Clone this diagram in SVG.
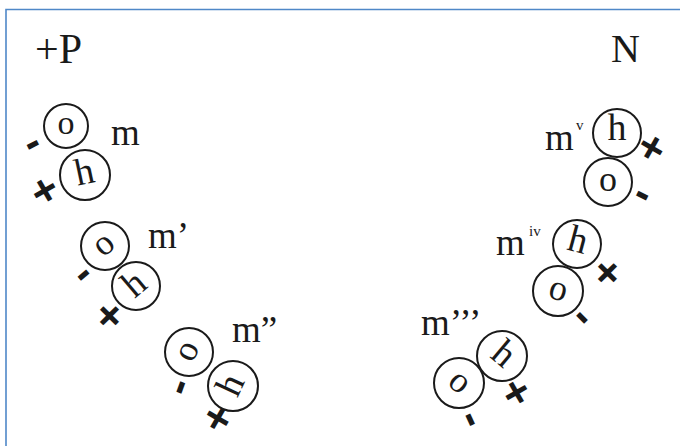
<svg xmlns="http://www.w3.org/2000/svg" width="680" height="446" viewBox="0 0 680 446">
<style>
.c{fill:none;stroke:#1a1a1a;stroke-width:2}
.l{font-family:"Liberation Serif","DejaVu Serif",serif;fill:#1a1a1a;text-anchor:middle}
.a{font-family:"Liberation Serif","DejaVu Serif",serif;fill:#1a1a1a}
.q{font-family:"Liberation Sans","DejaVu Sans",sans-serif;font-weight:bold;fill:#1a1a1a;text-anchor:middle;dominant-baseline:central}
.p{font-size:44px}
.n{font-size:44px}
</style>
<rect width="680" height="446" fill="#fff"/>
<path d="M6 446V9.5H680" fill="none" stroke="#4f88c8" stroke-width="1.6"/>
<text class="a" x="35" y="63" font-size="42">+P</text>
<text class="a" x="611" y="62" font-size="40">N</text>

<g id="m">
<circle class="c" cx="66" cy="126" r="22"/>
<text class="l" font-size="34" transform="translate(66,126)" y="8">o</text>
<circle class="c" cx="85" cy="175" r="25"/>
<text class="l" font-size="38" transform="translate(85,175) rotate(-12)" y="9">h</text>
<text class="a" x="111" y="145" font-size="37">m</text>
<text class="q n" transform="translate(31,141) rotate(-27)">-</text>
<text class="q p" transform="translate(44,190) rotate(-30)">+</text>
</g>

<g id="m1">
<circle class="c" cx="105" cy="246" r="24"/>
<text class="l" font-size="36" transform="translate(105,246) rotate(-40)" y="8">o</text>
<circle class="c" cx="136" cy="286" r="24"/>
<text class="l" font-size="38" transform="translate(136,286) rotate(-40)" y="9">h</text>
<text class="a" x="148" y="248" font-size="37">m’</text>
<text class="q n" transform="translate(81,272) rotate(-40)">-</text>
<text class="q p" transform="translate(110,315) rotate(45)">+</text>
</g>

<g id="m2">
<circle class="c" cx="189" cy="352" r="24"/>
<text class="l" font-size="36" transform="translate(189,352) rotate(-65)" y="8">o</text>
<circle class="c" cx="233" cy="386" r="25"/>
<text class="l" font-size="38" transform="translate(233,386) rotate(-65)" y="9">h</text>
<text class="a" x="232" y="342" font-size="37">m”</text>
<text class="q n" transform="translate(177,386) rotate(-70)">-</text>
<text class="q p" transform="translate(217,418) rotate(-60)">+</text>
</g>

<g id="m5">
<circle class="c" cx="617" cy="133" r="24"/>
<text class="l" font-size="38" transform="translate(617,133)" y="7">h</text>
<circle class="c" cx="608" cy="182" r="24"/>
<text class="l" font-size="36" transform="translate(608,182)" y="9">o</text>
<text class="a" x="545" y="150" font-size="37">m</text>
<text class="a" x="576" y="130" font-size="15">v</text>
<text class="q p" transform="translate(652,147) rotate(30)">+</text>
<text class="q n" transform="translate(644,192) rotate(27)">-</text>
</g>

<g id="m4">
<circle class="c" cx="577" cy="244" r="24"/>
<text class="l" font-size="38" transform="translate(577,244) rotate(15)" y="8">h</text>
<circle class="c" cx="558" cy="291" r="25"/>
<text class="l" font-size="36" transform="translate(558,291) rotate(15)" y="9">o</text>
<text class="a" x="496" y="255" font-size="37">m</text>
<text class="a" x="529" y="236" font-size="15">iv</text>
<text class="q p" transform="translate(608,272) rotate(45)">+</text>
<text class="q n" transform="translate(585,315) rotate(45)">-</text>
</g>

<g id="m3">
<circle class="c" cx="502" cy="356" r="25"/>
<text class="l" font-size="38" transform="translate(502,356) rotate(40)" y="9">h</text>
<circle class="c" cx="459" cy="383" r="25"/>
<text class="l" font-size="36" transform="translate(459,383) rotate(40)" y="9">o</text>
<text class="a" x="421" y="335" font-size="37">m’’’</text>
<text class="q p" transform="translate(517,392) rotate(60)">+</text>
<text class="q n" transform="translate(474,418) rotate(65)">-</text>
</g>

<g id="connectors"/>
</svg>
